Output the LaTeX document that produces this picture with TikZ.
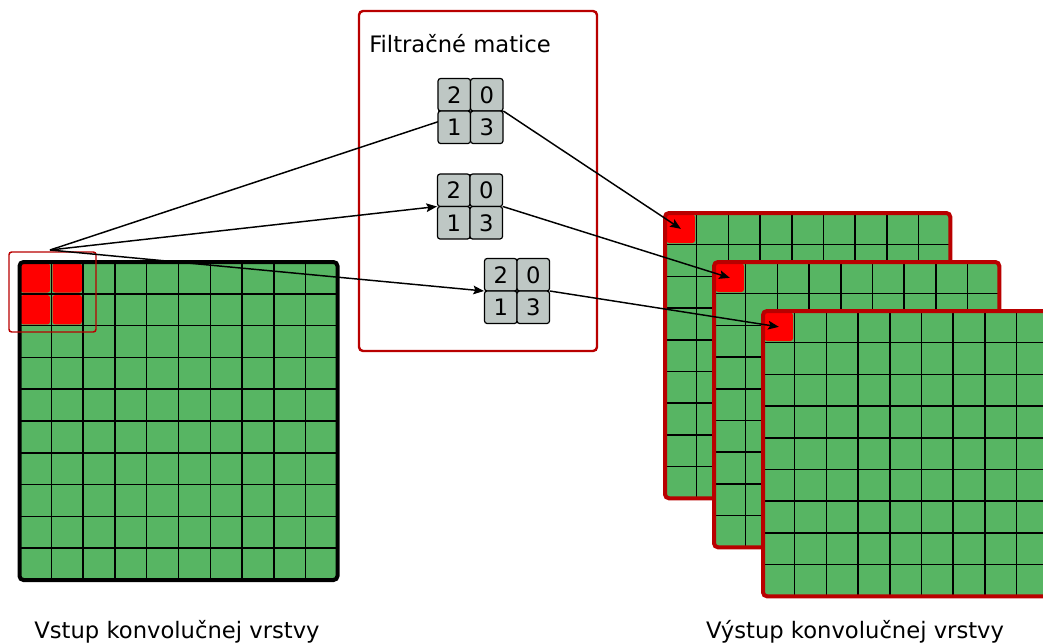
\documentclass[tikz,border=0pt]{standalone}
\usepackage{fontspec}
\setmainfont{DejaVu Sans}
\usetikzlibrary{arrows.meta}
\definecolor{cgreen}{RGB}{87,181,99}
\definecolor{cdred}{RGB}{185,0,0}
\definecolor{cred}{RGB}{255,0,0}
\definecolor{cgrey}{RGB}{190,199,196}
\tikzset{
  lbl/.style={font=\fontsize{17pt}{20pt}\selectfont, inner sep=0pt},
  fcell/.style={draw=black, line width=0.9pt, fill=cgrey, rounded corners=2pt, minimum size=24.4pt, inner sep=0pt, font=\fontsize{17pt}{20pt}\selectfont},
  fmat/.style={minimum size=48.8pt, inner sep=0pt},
  redcell/.style={fill=cred, rounded corners=2pt, minimum size=21.3pt, inner sep=0pt},
  gline/.style={black, line width=1.1pt},
  conn/.style={black, line width=1.1pt},
  arr/.style={conn, -{Stealth[length=8pt,width=6.5pt,inset=1.5pt]}},
}
\newcommand{\filtmat}[3]{%
  \node[fmat] (#1) at (#2,#3) {};
  \node[fcell] (#1a) at ({#2-16.25},{#3-16.25}) {2};
  \node[fcell] (#1b) at ({#2+16.25},{#3-16.25}) {0};
  \node[fcell] (#1c) at ({#2-16.25},{#3+16.25}) {1};
  \node[fcell] (#1d) at ({#2+16.25},{#3+16.25}) {3};
}
\newcommand{\outgrid}[3]{%
  \fill[cgreen, rounded corners=3pt] (#2,#3) rectangle ++(285.3,285.3);
  \node[redcell] (#1) at ({#2+15.85},{#3+15.85}) {};
  \foreach \k in {1,...,8} {
    \draw[gline] ({#2+\k*31.7},#3) -- ++(0,285.3);
    \draw[gline] (#2,{#3+\k*31.7}) -- ++(285.3,0);
  }
  \draw[cdred, line width=3pt, rounded corners=3pt] (#2,#3) rectangle ++(285.3,285.3);
}
\begin{document}
\begin{tikzpicture}[x=0.75pt,y=-0.75pt]
\useasboundingbox (0,0) rectangle (1043,643);
\clip (0,0) rectangle (1043,643);
% input grid
\fill[cgreen, rounded corners=3pt] (19.5,262) rectangle (337.5,580);
\foreach \i in {0,1} \foreach \j in {0,1}
  \node[redcell, minimum size=22pt] (in\i\j) at ({19.5+\i*31.8+15.9},{262+\j*31.8+15.9}) {};
\foreach \k in {1,...,9} {
  \draw[gline] ({19.5+\k*31.8},262) -- ++(0,318);
  \draw[gline] (19.5,{262+\k*31.8}) -- ++(318,0);
}
\draw[black, line width=3pt, rounded corners=3pt] (19.5,262) rectangle (337.5,580);
% selection window
\draw[cdred, line width=1.1pt, rounded corners=2pt] (9,252) rectangle (96,332);
\coordinate (src) at (50,250);
% filter box
\draw[cdred, line width=1.8pt, rounded corners=3pt] (359,11) rectangle (597,351);
\node[lbl, anchor=base west] (ftitle) at (369,52) {Filtračné matice};
% output grids
\outgrid{o1}{665}{213}
\outgrid{o2}{714}{262}
\outgrid{o3}{763}{311}
% connectors
\draw[conn] (src) -- (470.5,111);
\draw[arr] (src) -- (437,206.5);
\draw[arr] (src) -- (484,291);
\filtmat{f1}{470.5}{111}
\filtmat{f2}{470}{206.5}
\filtmat{f3}{517}{291}
\draw[arr] (f1.east) -- (o1.center);
\draw[arr] (f2.east) -- (o2.center);
\draw[arr] (f3.east) -- (o3.center);
% labels
\node[lbl, anchor=base] (inlbl) at (177,638) {Vstup konvolučnej vrstvy};
\node[lbl, anchor=base] (outlbl) at (855,638) {Výstup konvolučnej vrstvy};
\end{tikzpicture}
\end{document}
